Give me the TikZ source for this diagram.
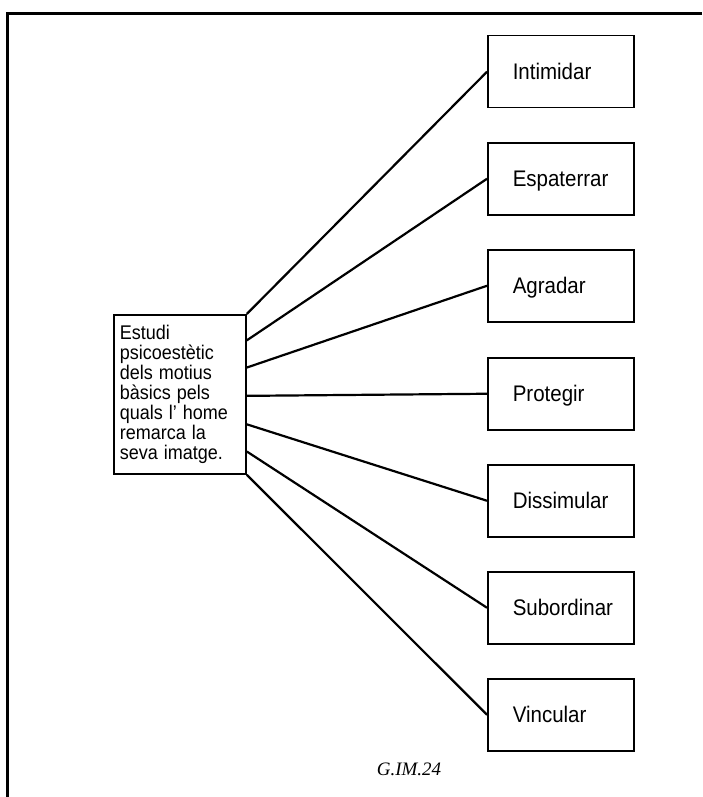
\documentclass[tikz,border=0pt]{standalone}
\usepackage{fontspec}
\usepackage{graphicx}
\setmainfont{Liberation Sans}
\newfontfamily\captionserif{Liberation Serif}
\usetikzlibrary{calc}
\newcommand\tallline[1]{\scalebox{1}[1.1]{#1}}
\begin{document}
\begin{tikzpicture}[x=1pt,y=-1pt,
  mainbox/.style={draw, line width=1.8pt, minimum width=132pt, minimum height=159pt,
    inner xsep=6pt, text width=120pt, align=left, anchor=north west,
    font=\fontsize{18}{20}\selectfont},
  leafbox/.style={draw, line width=1.5pt, minimum width=146pt, minimum height=72pt,
    inner xsep=16pt, inner ysep=0pt, text width=114pt, align=left, anchor=north west,
    text height=16pt, text depth=0pt, font=\fontsize{20.5}{24}\selectfont},
  link/.style={line width=2.2pt},
  frame/.style={line width=2.2pt}]
\useasboundingbox (0,0) rectangle (702,797);
\draw[frame] (702,13.5) -- (7.5,13.5) -- (7.5,797);

\node[mainbox] (c) at (113,314) {\tallline{Estudi}\\\tallline{psicoestètic}\\\tallline{dels motius}\\\tallline{bàsics pels}\\\tallline{quals l' home}\\\tallline{remarca la}\\\tallline{seva imatge.}};

\node[leafbox] (b1) at (487,35)  {\hspace*{9pt}\tallline{Intimidar}};
\node[leafbox] (b2) at (487,142) {\hspace*{9pt}\tallline{Espaterrar}};
\node[leafbox] (b3) at (487,249) {\hspace*{9pt}\tallline{Agradar}};
\node[leafbox] (b4) at (487,357) {\hspace*{9pt}\tallline{Protegir}};
\node[leafbox] (b5) at (487,464) {\hspace*{9pt}\tallline{Dissimular}};
\node[leafbox] (b6) at (487,571) {\hspace*{9pt}\tallline{Subordinar}};
\node[leafbox] (b7) at (487,678) {\hspace*{9pt}\tallline{Vincular}};

\coordinate (s1) at (c.north east);
\coordinate (s2) at ($(c.north east)!0.164!(c.south east)$);
\coordinate (s3) at ($(c.north east)!0.333!(c.south east)$);
\coordinate (s4) at ($(c.north east)!0.509!(c.south east)$);
\coordinate (s5) at ($(c.north east)!0.686!(c.south east)$);
\coordinate (s6) at ($(c.north east)!0.855!(c.south east)$);
\coordinate (s7) at (c.south east);

\draw[link] (s1) -- (b1.west);
\draw[link] (s2) -- (b2.west);
\draw[link] (s3) -- (b3.west);
\draw[link] (s4) -- (b4.west);
\draw[link] (s5) -- (b5.west);
\draw[link] (s6) -- (b6.west);
\draw[link] (s7) -- (b7.west);

\node[font=\captionserif\itshape\fontsize{19}{21}\selectfont] (cap) at (409,769) {G.IM.24};
\end{tikzpicture}
\end{document}
